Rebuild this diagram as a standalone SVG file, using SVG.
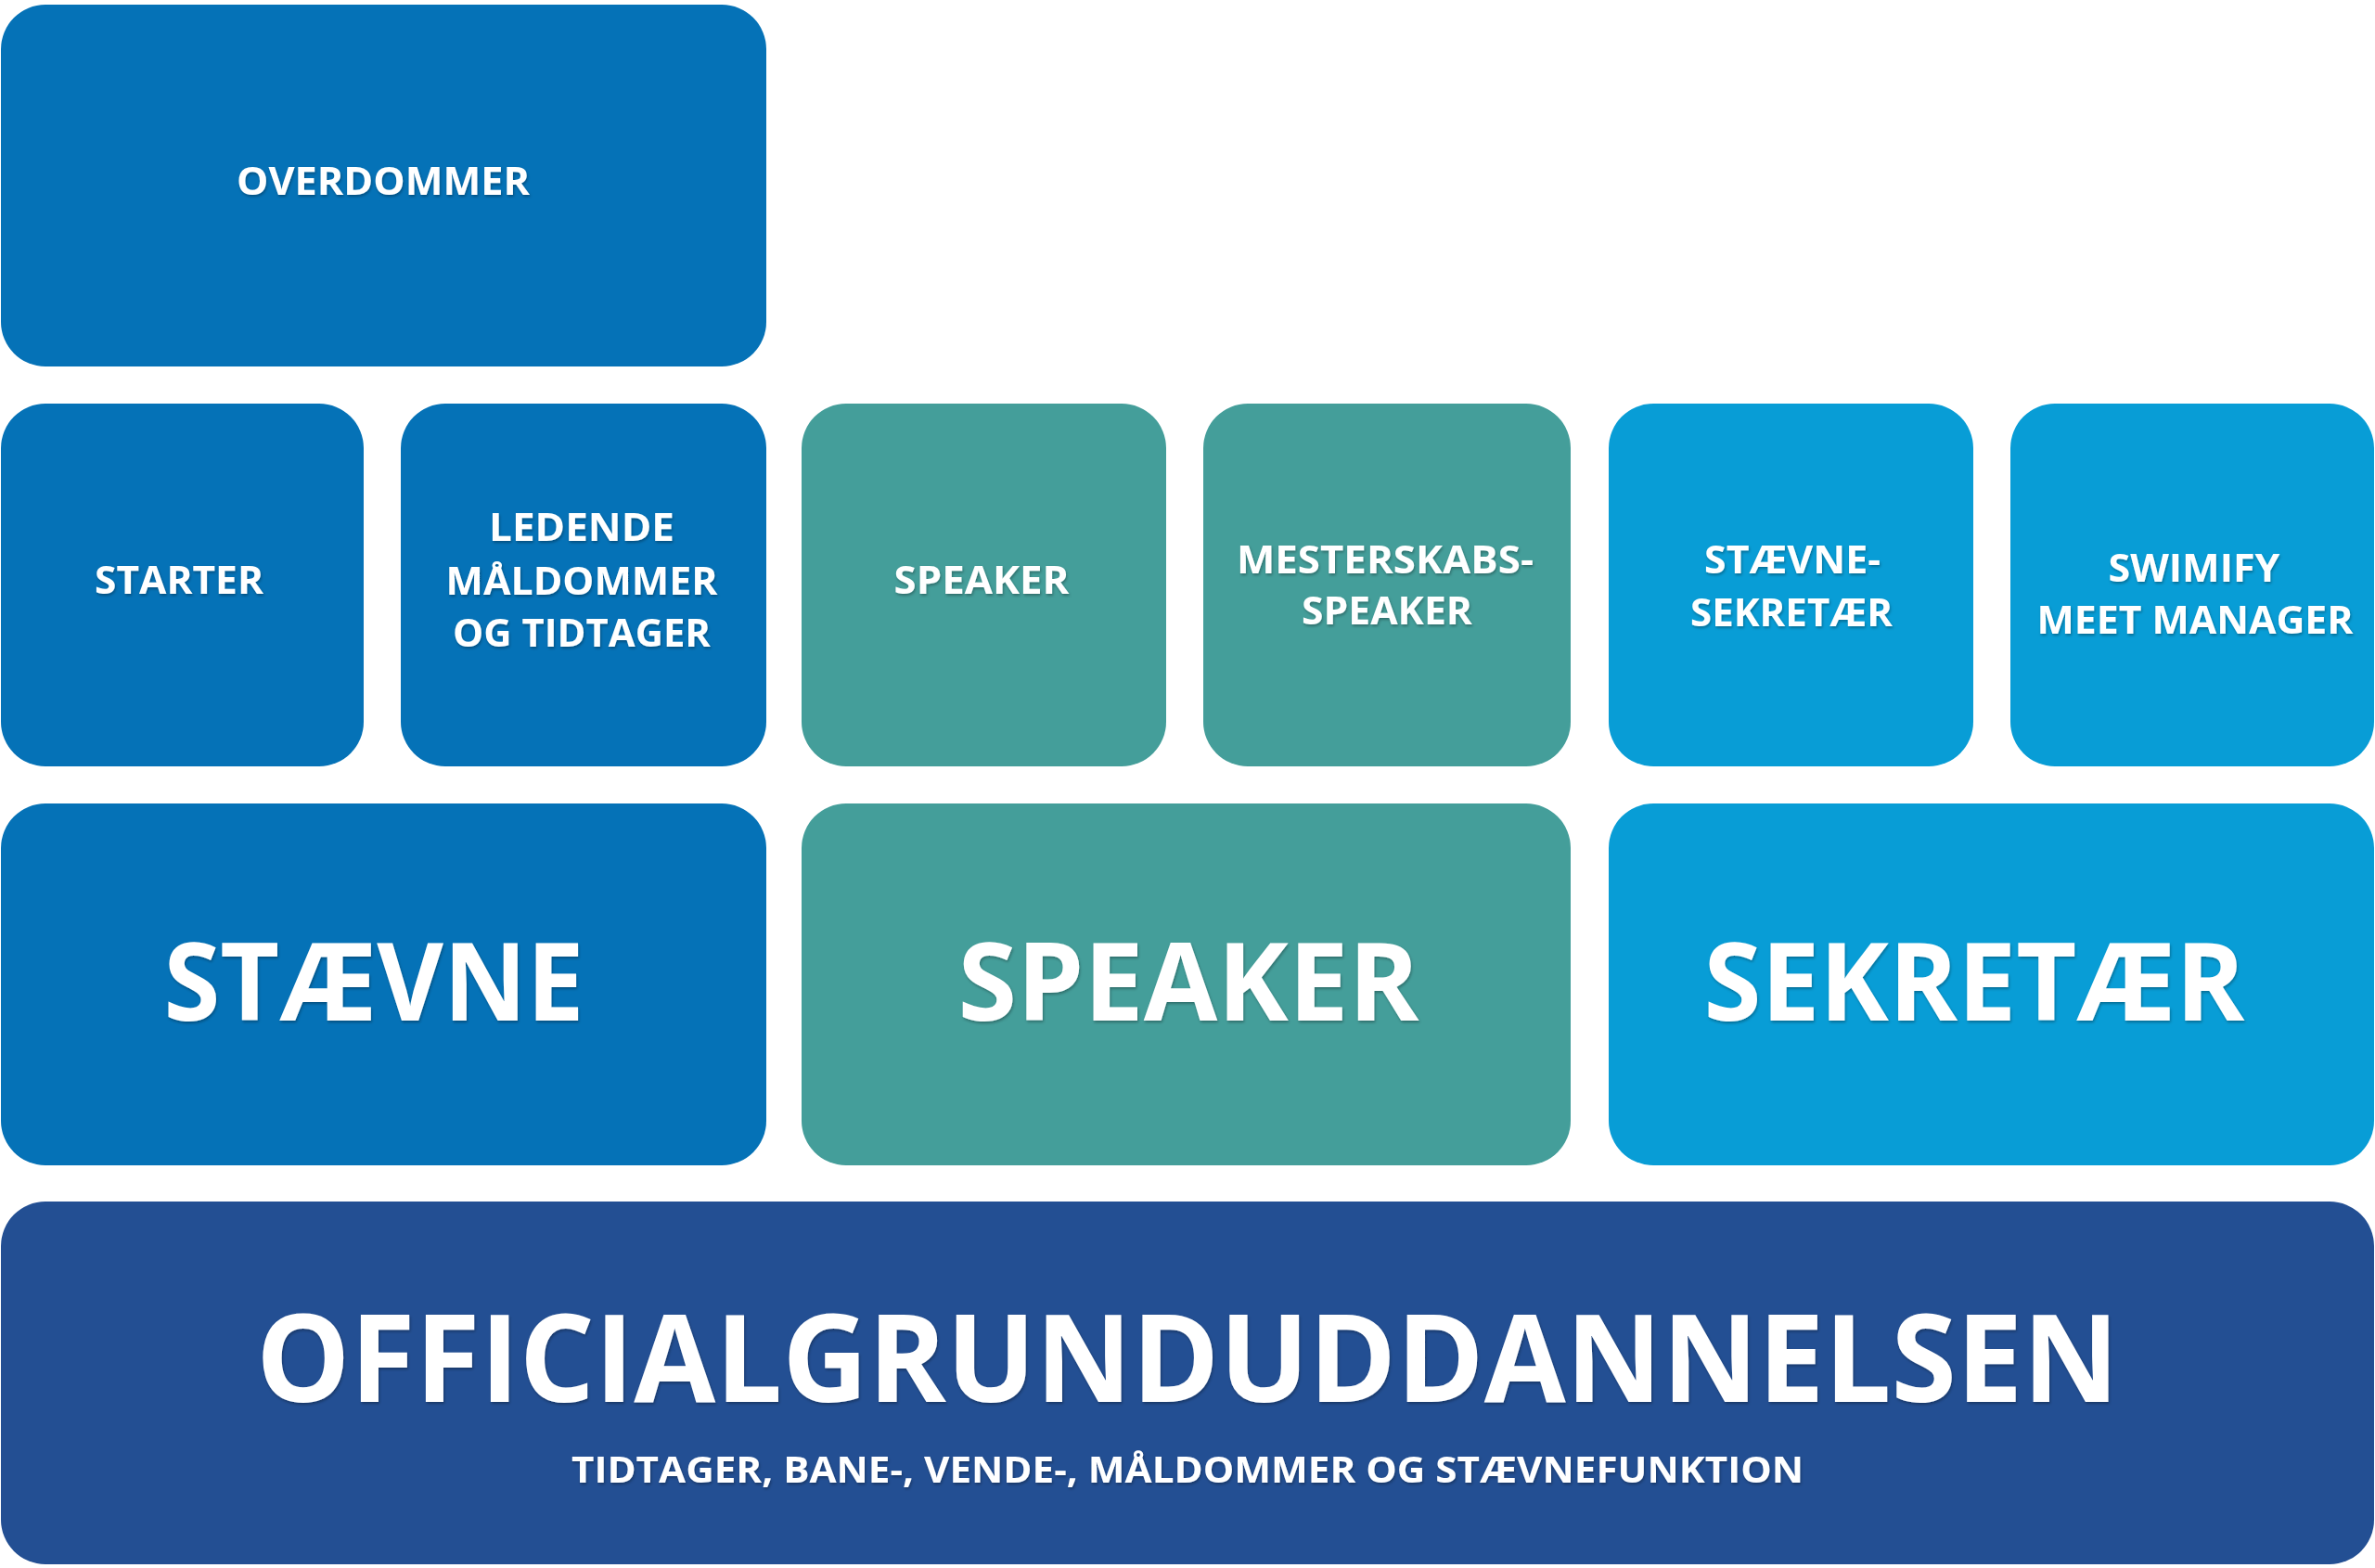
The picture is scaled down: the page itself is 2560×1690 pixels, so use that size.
<svg xmlns="http://www.w3.org/2000/svg" width="2560" height="1690" viewBox="0 0 2560 1690">
<defs>
<filter id="ts" x="-5%" y="-20%" width="110%" height="150%"><feDropShadow dx="1" dy="2" stdDeviation="1.5" flood-color="#000000" flood-opacity="0.3"/></filter>
</defs>
<style>
.b1{fill:#0572B7}
.b2{fill:#449E9A}
.b3{fill:#089DD6}
.b4{fill:#234F93}
text{font-family:"Open Sans","Liberation Sans",sans-serif;font-weight:700;fill:#ffffff;text-anchor:middle;filter:url(#ts)}
.s{font-size:42px}
.l{font-size:117px}
.xl{font-size:131px}
.sub{font-size:40px}
</style>
<rect width="2560" height="1690" fill="#ffffff"/>
<g id="connectors"></g>
<g id="overdommer"><rect class="b1" x="1" y="5" width="825" height="390" rx="48"/><text class="s" x="413" y="210" textLength="316" lengthAdjust="spacingAndGlyphs">OVERDOMMER</text></g>
<g id="starter"><rect class="b1" x="1" y="435" width="391" height="391" rx="48"/><text class="s" x="193" y="640" textLength="182" lengthAdjust="spacingAndGlyphs">STARTER</text></g>
<g id="ledende"><rect class="b1" x="432" y="435" width="394" height="391" rx="48"/><text class="s" x="627" y="583" textLength="200" lengthAdjust="spacingAndGlyphs">LEDENDE</text><text class="s" x="627" y="641" textLength="293" lengthAdjust="spacingAndGlyphs">MÅLDOMMER</text><text class="s" x="627" y="697" textLength="278" lengthAdjust="spacingAndGlyphs">OG TIDTAGER</text></g>
<g id="speaker-small"><rect class="b2" x="864" y="435" width="393" height="391" rx="48"/><text class="s" x="1058" y="640" textLength="189" lengthAdjust="spacingAndGlyphs">SPEAKER</text></g>
<g id="mesterskabsspeaker"><rect class="b2" x="1297" y="435" width="396" height="391" rx="48"/><text class="s" x="1493" y="618" textLength="320" lengthAdjust="spacingAndGlyphs">MESTERSKABS-</text><text class="s" x="1495" y="673" textLength="184" lengthAdjust="spacingAndGlyphs">SPEAKER</text></g>
<g id="staevnesekretaer"><rect class="b3" x="1734" y="435" width="393" height="391" rx="48"/><text class="s" x="1932" y="618" textLength="190" lengthAdjust="spacingAndGlyphs">STÆVNE-</text><text class="s" x="1931" y="675" textLength="218" lengthAdjust="spacingAndGlyphs">SEKRETÆR</text></g>
<g id="swimify"><rect class="b3" x="2167" y="435" width="392" height="391" rx="48"/><text class="s" x="2365" y="627" textLength="185" lengthAdjust="spacingAndGlyphs">SWIMIFY</text><text class="s" x="2366" y="683" textLength="341" lengthAdjust="spacingAndGlyphs">MEET MANAGER</text></g>
<g id="staevne"><rect class="b1" x="1" y="866" width="825" height="390" rx="48"/><text class="l" x="403" y="1100" textLength="453" lengthAdjust="spacingAndGlyphs">STÆVNE</text></g>
<g id="speaker"><rect class="b2" x="864" y="866" width="829" height="390" rx="48"/><text class="l" x="1281" y="1100" textLength="497" lengthAdjust="spacingAndGlyphs">SPEAKER</text></g>
<g id="sekretaer"><rect class="b3" x="1734" y="866" width="825" height="390" rx="48"/><text class="l" x="2128" y="1100" textLength="583" lengthAdjust="spacingAndGlyphs">SEKRETÆR</text></g>
<g id="officialgrunduddannelsen"><rect class="b4" x="1" y="1295" width="2558" height="391" rx="48"/><text class="xl" x="1280" y="1511" textLength="2008" lengthAdjust="spacingAndGlyphs">OFFICIALGRUNDUDDANNELSEN</text><text class="sub" x="1280" y="1598" textLength="1328" lengthAdjust="spacingAndGlyphs">TIDTAGER, BANE-, VENDE-, MÅLDOMMER OG STÆVNEFUNKTION</text></g>
</svg>
